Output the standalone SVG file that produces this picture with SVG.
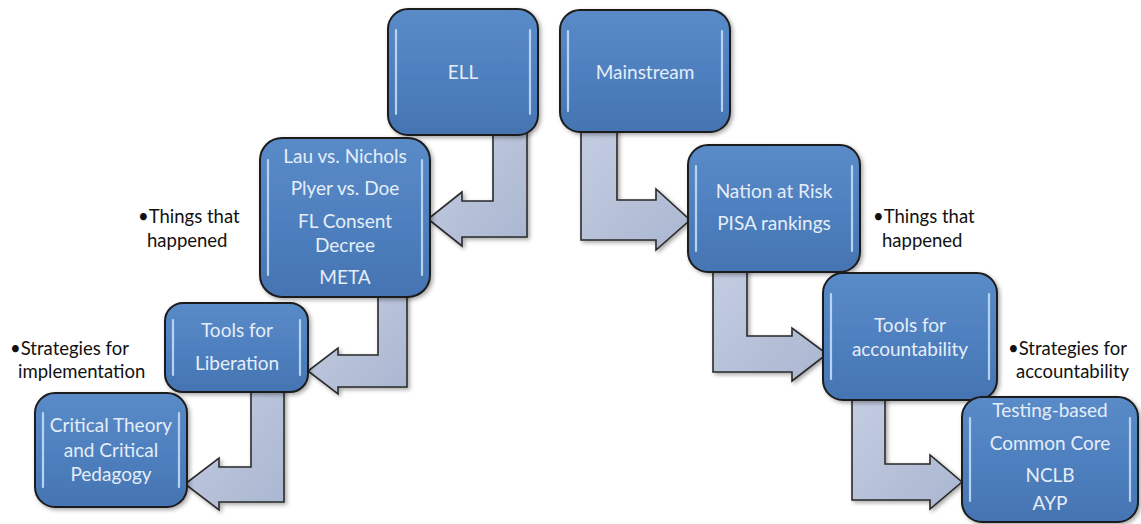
<svg xmlns="http://www.w3.org/2000/svg" width="1141" height="524" viewBox="0 0 1141 524">
  <defs>
    <linearGradient id="boxFill" x1="0" y1="0" x2="0" y2="1">
      <stop offset="0" stop-color="#5a8bc8"/>
      <stop offset="0.5" stop-color="#4f80bf"/>
      <stop offset="1" stop-color="#4574b2"/>
    </linearGradient>
    <linearGradient id="arrowFill" x1="0" y1="0" x2="1" y2="1">
      <stop offset="0" stop-color="#c4cde2"/>
      <stop offset="1" stop-color="#aab6d0"/>
    </linearGradient>
    <filter id="shadow" x="-10%" y="-10%" width="125%" height="125%">
      <feGaussianBlur in="SourceAlpha" stdDeviation="2"/>
      <feOffset dx="2" dy="2" result="b"/>
      <feComponentTransfer><feFuncA type="linear" slope="0.35"/></feComponentTransfer>
      <feMerge><feMergeNode/><feMergeNode in="SourceGraphic"/></feMerge>
    </filter>
  </defs>
  <style>
    .box { fill: url(#boxFill); stroke: #1c1c1c; stroke-width: 2; filter: url(#shadow); }
    .shine { stroke: #c9e0fa; stroke-width: 2.2; stroke-linecap: round; fill: none; opacity: 0.85; }
    .arrow { fill: url(#arrowFill); stroke: #2a2a2a; stroke-width: 1.6; stroke-linejoin: miter; filter: url(#shadow); }
    .t { font-family: Lato, "Liberation Sans", sans-serif; font-size: 19px; fill: #e4edf8; text-anchor: middle; }
    .lbl { font-family: Lato, "Liberation Sans", sans-serif; font-size: 18.5px; fill: #111111; }
  </style>
  <rect width="1141" height="524" fill="#ffffff"/>

  <!-- bent block arrows -->
  <g id="connectors">
    <path class="arrow" d="M493 130 L527 130 L527 237 L462 237 L462 246 L428 219 L462 192 L462 201 L493 201 Z"/>
    <path class="arrow" d="M581 128 L617 128 L617 200 L656 200 L656 189 L690 220 L656 250 L656 240 L581 240 Z"/>
    <path class="arrow" d="M378 292 L407 292 L407 387 L338 387 L338 394 L308 371 L338 348 L338 355 L378 355 Z"/>
    <path class="arrow" d="M251 388 L284 388 L284 502 L219 502 L219 510 L185 484 L219 458 L219 467 L251 467 Z"/>
    <path class="arrow" d="M713 268 L747 268 L747 336 L792 336 L792 328 L827 354 L792 381 L792 372 L713 372 Z"/>
    <path class="arrow" d="M852 396 L885 396 L885 464 L930 464 L930 455 L962 482 L930 509 L930 500 L852 500 Z"/>
  </g>

  <g id="ell">
    <rect class="box" x="388" y="9" width="150" height="126" rx="20"/>
    <path class="shine" d="M396 30 L396 114 M530 30 L530 114"/>
    <text class="t" x="463" y="79">ELL</text>
  </g>

  <g id="mainstream">
    <rect class="box" x="560" y="10" width="170" height="122" rx="20"/>
    <path class="shine" d="M568 31 L568 111 M722 31 L722 111"/>
    <text class="t" x="645" y="79">Mainstream</text>
  </g>

  <g id="ell-events">
    <rect class="box" x="260" y="138" width="170" height="159" rx="22"/>
    <path class="shine" d="M268 160 L268 275 M422 160 L422 275"/>
    <text class="t" x="345" y="163">Lau vs. Nichols</text>
    <text class="t" x="345" y="195">Plyer vs. Doe</text>
    <text class="t" x="345" y="228">FL Consent</text>
    <text class="t" x="345" y="252">Decree</text>
    <text class="t" x="345" y="284">META</text>
  </g>

  <g id="ell-tools">
    <rect class="box" x="165" y="303" width="143" height="89" rx="18"/>
    <path class="shine" d="M173 320 L173 375 M300 320 L300 375"/>
    <text class="t" x="237" y="337">Tools for</text>
    <text class="t" x="237" y="370">Liberation</text>
  </g>

  <g id="ell-strategies">
    <rect class="box" x="35" y="393" width="152" height="114" rx="20"/>
    <path class="shine" d="M43 413 L43 487 M179 413 L179 487"/>
    <text class="t" x="111" y="432">Critical Theory</text>
    <text class="t" x="111" y="457">and Critical</text>
    <text class="t" x="111" y="481">Pedagogy</text>
  </g>

  <g id="main-events">
    <rect class="box" x="688" y="145" width="172" height="127" rx="20"/>
    <path class="shine" d="M696 166 L696 251 M852 166 L852 251"/>
    <text class="t" x="774" y="198">Nation at Risk</text>
    <text class="t" x="774" y="230">PISA rankings</text>
  </g>

  <g id="main-tools">
    <rect class="box" x="823" y="273" width="174" height="127" rx="20"/>
    <path class="shine" d="M831 294 L831 379 M989 294 L989 379"/>
    <text class="t" x="910" y="332">Tools for</text>
    <text class="t" x="910" y="356">accountability</text>
  </g>

  <g id="main-strategies">
    <rect class="box" x="962" y="397" width="176" height="125" rx="20"/>
    <path class="shine" d="M970 418 L970 501 M1130 418 L1130 501"/>
    <text class="t" x="1050" y="417">Testing-based</text>
    <text class="t" x="1050" y="450">Common Core</text>
    <text class="t" x="1050" y="482">NCLB</text>
    <text class="t" x="1050" y="510">AYP</text>
  </g>

  <!-- bulleted side notes -->
  <g id="notes">
    <text class="lbl" x="138" y="223">•Things that</text>
    <text class="lbl" x="147" y="247">happened</text>
    <text class="lbl" x="873" y="223">•Things that</text>
    <text class="lbl" x="882" y="247">happened</text>
    <text class="lbl" x="10" y="355">•Strategies for</text>
    <text class="lbl" x="18" y="378">implementation</text>
    <text class="lbl" x="1008" y="355">•Strategies for</text>
    <text class="lbl" x="1016" y="378">accountability</text>
  </g>
</svg>
